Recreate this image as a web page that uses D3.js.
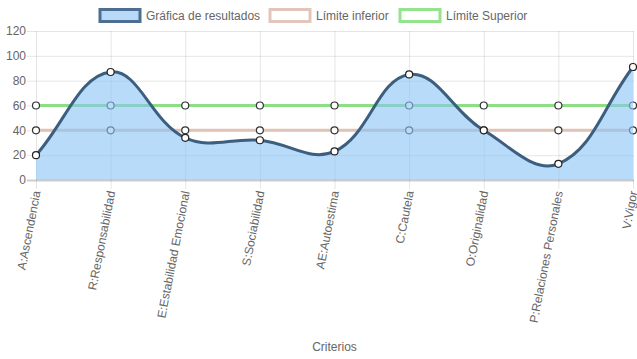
<!DOCTYPE html>
<html><head><meta charset="utf-8">
<script src="https://cdn.jsdelivr.net/npm/d3@7/dist/d3.min.js"></script>
<style>html,body{margin:0;padding:0;background:#fff;}svg{display:block;font-family:"Liberation Sans",Arial,Helvetica,sans-serif;}</style>
</head><body>
<svg id="c" width="637" height="359"></svg>
<script>
const categories = ["A:Ascendencia","R:Responsabilidad","E:Estabilidad Emocional","S:Sociabilidad","AE:Autoestima","C:Cautela","O:Originalidad","P:Relaciones Personales","V:Vigor"];
const resultados = [20, 87, 34, 32, 23, 85, 40, 13, 91];
const limiteInferior = [40, 40, 40, 40, 40, 40, 40, 40, 40];
const limiteSuperior = [60, 60, 60, 60, 60, 60, 60, 60, 60];
const yTicks = [0, 20, 40, 60, 80, 100, 120];
const seriesNames = ["Gráfica de resultados", "Límite inferior", "Límite Superior"];
const axisTitle = "Criterios";

(function(){
const svg = d3.select("#c");
const pLeft = 36, pRight = 633, pTop = 31, pBottom = 180;
const x = d3.scalePoint().domain(categories).range([pLeft, pRight]);
const y = d3.scaleLinear().domain([0, 120]).range([pBottom, pTop]);
const txt = "#666";

// Chart.js-like spline curve (tension 0.4)
function chartjsCurve(context) {
  let pts = [], inArea = false, lineNo = 0;
  return {
    areaStart() { inArea = true; lineNo = 0; },
    areaEnd() { context.closePath(); inArea = false; },
    lineStart() { pts = []; },
    point(px, py) { pts.push([+px, +py]); },
    lineEnd() {
      const n = pts.length;
      if (!n) return;
      const t = 0.4;
      const cps = pts.map((p, i) => {
        const prev = pts[i - 1] || p, next = pts[i + 1] || p;
        const d01 = Math.hypot(p[0] - prev[0], p[1] - prev[1]);
        const d12 = Math.hypot(next[0] - p[0], next[1] - p[1]);
        let s01 = d01 / (d01 + d12), s12 = d12 / (d01 + d12);
        s01 = isNaN(s01) ? 0 : s01; s12 = isNaN(s12) ? 0 : s12;
        const fa = t * s01, fb = t * s12;
        return {
          prev: [p[0] - fa * (next[0] - prev[0]), p[1] - fa * (next[1] - prev[1])],
          next: [p[0] + fb * (next[0] - prev[0]), p[1] + fb * (next[1] - prev[1])]
        };
      });
      if (inArea && lineNo > 0) context.lineTo(pts[0][0], pts[0][1]);
      else context.moveTo(pts[0][0], pts[0][1]);
      for (let i = 1; i < n; i++) {
        const a = cps[i - 1].next, b = cps[i].prev;
        context.bezierCurveTo(a[0], a[1], b[0], b[1], pts[i][0], pts[i][1]);
      }
      lineNo++;
    }
  };
}

// grid
const g = svg.append("g");
yTicks.forEach(v => {
  g.append("line").attr("x1", pLeft - 9).attr("x2", pRight + 1).attr("y1", y(v) + 0.5).attr("y2", y(v) + 0.5)
    .attr("stroke", v === 0 ? "rgba(0,0,0,0.2)" : "rgba(0,0,0,0.1)").attr("stroke-width", v === 0 ? 2 : 1);
  g.append("text").attr("x", pLeft - 10).attr("y", y(v)).attr("dy", "0.35em").attr("text-anchor", "end")
    .attr("fill", txt).attr("font-size", 12).text(v);
});
categories.forEach(c => {
  g.append("line").attr("x1", x(c) + 0.5).attr("x2", x(c) + 0.5).attr("y1", pTop).attr("y2", pBottom + 9)
    .attr("stroke", "rgba(0,0,0,0.1)");
  g.append("text").attr("transform", `translate(${x(c) + 0.5},${pBottom + 11}) rotate(-79)`)
    .attr("text-anchor", "end").attr("dy", "0.35em").attr("fill", txt).attr("font-size", 12).text(c);
});

const lineGen = d3.line().x((d, i) => x(categories[i])).y(d => y(d)).curve(chartjsCurve);
const areaGen = d3.area().x((d, i) => x(categories[i])).y0(y(0)).y1(d => y(d)).curve(chartjsCurve);

function points(data, stroke) {
  svg.append("g").selectAll("circle").data(data).join("circle")
    .attr("cx", (d, i) => x(categories[i])).attr("cy", d => y(d)).attr("r", 3.5)
    .attr("fill", "#fff").attr("stroke", stroke).attr("stroke-width", 1.2);
}

// limits (drawn underneath)
svg.append("path").attr("d", lineGen(limiteSuperior)).attr("fill", "none").attr("stroke", "#8ddf86").attr("stroke-width", 3);
points(limiteSuperior, "#333");
svg.append("path").attr("d", lineGen(limiteInferior)).attr("fill", "none").attr("stroke", "#e0c2b6").attr("stroke-width", 3);
points(limiteInferior, "#333");

// results
svg.append("path").attr("d", areaGen(resultados)).attr("fill", "rgba(136,195,245,0.6)");
svg.append("path").attr("d", lineGen(resultados)).attr("fill", "none").attr("stroke", "#3d5f7f").attr("stroke-width", 3);
points(resultados, "#222");

// legend
const legend = [
  {name: seriesNames[0], fill: "#b8d9f7", stroke: "#4b6f92", bx: 100},
  {name: seriesNames[1], fill: "#fff", stroke: "#e3c6bb", bx: 270},
  {name: seriesNames[2], fill: "#fff", stroke: "#93e48c", bx: 400}
];
legend.forEach(l => {
  svg.append("rect").attr("x", l.bx).attr("y", 9.5).attr("width", 40).attr("height", 12)
    .attr("fill", l.fill).attr("stroke", l.stroke).attr("stroke-width", 3);
  svg.append("text").attr("x", l.bx + 46).attr("y", 16).attr("dy", "0.35em").attr("fill", txt)
    .attr("font-size", 12).text(l.name);
});

svg.append("text").attr("x", (pLeft + pRight) / 2).attr("y", 347).attr("dy", "0.35em").attr("text-anchor", "middle")
  .attr("fill", txt).attr("font-size", 12).text(axisTitle);
})();
</script>
</body></html>
